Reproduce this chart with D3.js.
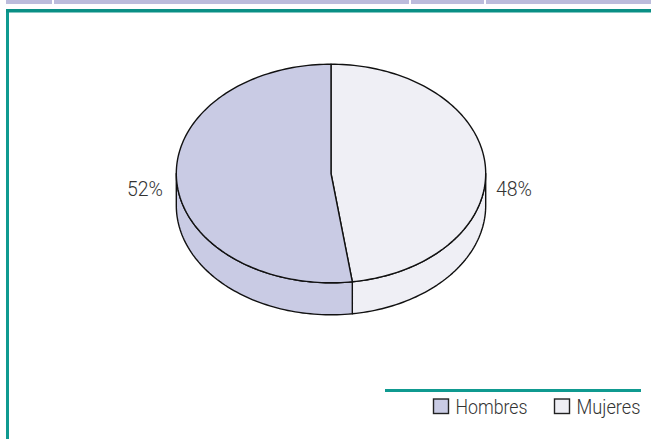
<!DOCTYPE html>
<html><head><meta charset="utf-8">
<script src="https://cdn.jsdelivr.net/npm/d3@7"></script>
<style>html,body{margin:0;padding:0;background:#fff;overflow:hidden}svg{display:block}
text{font-family:Roboto,sans-serif;font-weight:300;fill:#333}</style></head>
<body><svg id="c" width="651" height="439"></svg>
<script>
const categories = ["Mujeres", "Hombres"];
const values = [47.8, 52.2];
const colors = ["#efeff5", "#c9cbe4"];
const legendOrder = ["Hombres", "Mujeres"];
const tabs = [[6,52],[54,409],[411,484],[486,651]];

const svg = d3.select("#c");
svg.selectAll("rect.tab").data(tabs).join("rect").attr("class","tab")
  .attr("x",d=>d[0]).attr("y",0).attr("width",d=>d[1]-d[0]).attr("height",4).attr("fill","#bcbcdc");
svg.append("rect").attr("x",6).attr("y",9).attr("width",3).attr("height",430).attr("fill","#0f9a90");
svg.append("rect").attr("x",6).attr("y",9).attr("width",645).attr("height",3.5).attr("fill","#0a8f85");

const cx=331, cy=173.5, rx=154.7, ry=109.3, depth=32;
const px=a=>cx+rx*Math.sin(a), py=a=>cy-ry*Math.cos(a);
const pie=d3.pie().sort(null).value(d=>d.v);
const arcs=pie(categories.map((c,i)=>({c,v:values[i],col:colors[i]})));
const stroke="#111", sw=1.4;

function sample(a0,a1){const n=Math.max(2,Math.ceil(Math.abs(a1-a0)*40));return d3.range(n+1).map(i=>a0+(a1-a0)*i/n);}
const line=d3.line();

// side wall (front half only)
arcs.forEach(d=>{
  const a0=Math.max(d.startAngle,Math.PI/2), a1=Math.min(d.endAngle,Math.PI*1.5);
  if(a1<=a0) return;
  const top=sample(a0,a1).map(a=>[px(a),py(a)]);
  const bot=sample(a1,a0).map(a=>[px(a),py(a)+depth]);
  svg.append("path").attr("d",line(top.concat(bot))+"Z").attr("fill",d.data.col).attr("stroke",stroke).attr("stroke-width",sw).attr("stroke-linejoin","round");
});
// top face
arcs.forEach(d=>{
  const pts=[[cx,cy]].concat(sample(d.startAngle,d.endAngle).map(a=>[px(a),py(a)]));
  svg.append("path").attr("d",line(pts)+"Z").attr("fill",d.data.col).attr("stroke",stroke).attr("stroke-width",sw).attr("stroke-linejoin","round");
});

// labels
const fmt=d3.format(".0f");
svg.append("text").attr("x",127).attr("y",196).attr("font-size",20)
  .attr("textLength",36).attr("lengthAdjust","spacingAndGlyphs").text(fmt(values[1])+"%");
svg.append("text").attr("x",496).attr("y",196).attr("font-size",20)
  .attr("textLength",36).attr("lengthAdjust","spacingAndGlyphs").text(fmt(values[0])+"%");

// legend
svg.append("rect").attr("x",385).attr("y",389).attr("width",256).attr("height",3).attr("fill","#0f9a90");
const lx={Hombres:433.5,Mujeres:554.5}, lw={Hombres:72,Mujeres:64};
legendOrder.forEach(name=>{
  const i=categories.indexOf(name);
  svg.append("rect").attr("x",lx[name]).attr("y",399).attr("width",15).attr("height",14.5)
    .attr("fill",colors[i]).attr("stroke","#222").attr("stroke-width",1.4);
  svg.append("text").attr("x",lx[name]+22).attr("y",413.5).attr("font-size",20)
    .attr("textLength",lw[name]).attr("lengthAdjust","spacingAndGlyphs").text(name);
});
</script></body></html>
